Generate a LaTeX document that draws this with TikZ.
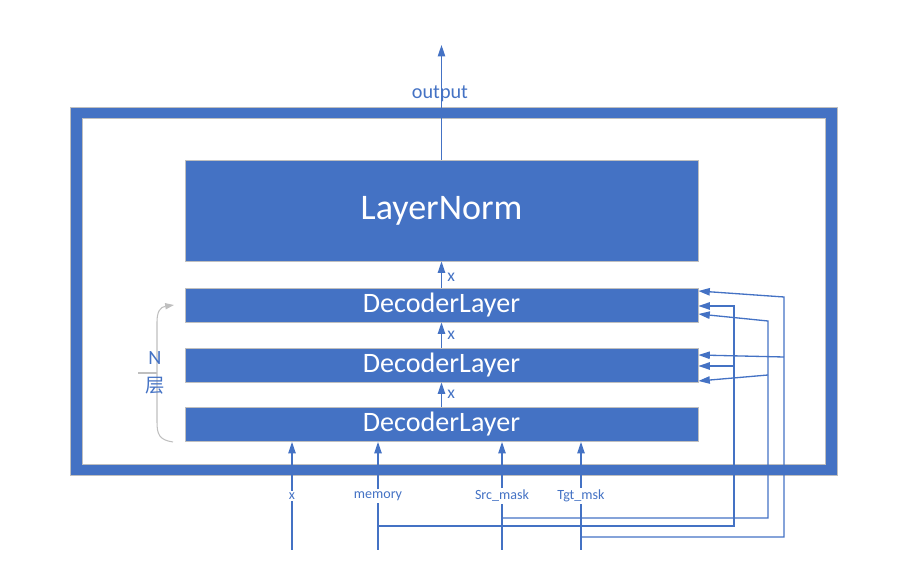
\documentclass[tikz,border=0pt]{standalone}
\usepackage{fontspec}
\setmainfont{Carlito}
\newfontfamily\cjk{Noto Sans CJK SC}
\usetikzlibrary{arrows.meta}
\definecolor{ppblue}{HTML}{4472C4}
\definecolor{ppgray}{HTML}{BFBFBF}

\begin{document}
\begin{tikzpicture}[x=0.02cm,y=-0.02cm,
  box/.style={fill=ppblue,draw=ppgray,line width=0.5pt,text=white,minimum width=10.26cm,inner sep=0pt},
  link/.style={ppblue,line width=0.75pt},
  tip/.style={-{Triangle[length=6.5pt,width=4.2pt]}},
  lbl/.style={text=ppblue,font=\fontsize{8}{9}\selectfont,inner sep=1pt},
  xlbl/.style={text=ppblue,font=\fontsize{10}{11}\selectfont,inner sep=1pt}]
\useasboundingbox (0,0) rectangle (924,577);
\draw[ppgray,line width=6.9pt] (76.5,113) rectangle (831.5,470);
\draw[ppblue,line width=6pt] (76.5,113) rectangle (831.5,470);

\node[box,minimum height=2.02cm,font=\fontsize{20.5}{24}\selectfont] (norm) at (441.5,210.5) {\raisebox{-2pt}{LayerNorm}};
\node[box,minimum height=0.68cm,font=\fontsize{16}{19}\selectfont] (dec3) at (441.5,305) {DecoderLayer};
\node[box,minimum height=0.68cm,font=\fontsize{16}{19}\selectfont] (dec2) at (441.5,365) {DecoderLayer};
\node[box,minimum height=0.68cm,font=\fontsize{16}{19}\selectfont] (dec1) at (441.5,424.5) {DecoderLayer};

\draw[link,tip] (dec1) -- (dec2) node[xlbl,midway,right=2pt]{x};
\draw[link,tip] (dec2) -- (dec3) node[xlbl,midway,right=2pt]{x};
\draw[link,tip] (dec3) -- (norm) node[xlbl,pos=0.4,right=2pt]{x};

\coordinate (top) at (441.5,45);
\draw[link,tip] (norm) -- (top);
\node[text=ppblue,font=\fontsize{11.5}{13}\selectfont] (outlbl) at (440,94) {output};

\foreach \n/\xx/\t in {inx/292/x, inmem/378/memory, insrc/502/Src\_mask, intgt/581/Tgt\_msk} {
  \node[lbl] (\n) at (\xx,496) {\t};
  \coordinate (\n b) at (\xx,550);
  \draw[link] (\n b) -- (\n);
  \draw[link,tip] (\n) -- (dec1.south -| \n);
}

\coordinate (mem0) at (378,526);
\coordinate (mem1) at (734,526);
\coordinate (mem2) at (734,306);
\coordinate (mem3) at (734,366);
\draw[link,tip] (mem0) -- (mem1) -- (mem2) -- (dec3.east |- mem2);
\draw[link,tip] (mem3) -- (dec2.east |- mem3);

\coordinate (src0) at (502,518);
\coordinate (src1) at (768,518);
\coordinate (src2) at (768,321);
\coordinate (src3) at (768,375);
\draw[link,tip] (src0) -- (src1) -- (src2) -- (dec3.east |- 0,314);
\draw[link,tip] (src3) -- (dec2.east |- 0,381);

\coordinate (tgt0) at (581,537);
\coordinate (tgt1) at (784,537);
\coordinate (tgt2) at (784,297);
\coordinate (tgt3) at (784,357);
\draw[link,tip] (tgt0) -- (tgt1) -- (tgt2) -- (dec3.east |- 0,291);
\draw[link,tip] (tgt3) -- (dec2.east |- 0,355);

\draw[ppgray,line width=0.6pt,-{Triangle[length=5pt,width=3.5pt]}] (173,442) .. controls (159,440) and (157,434) .. (157,422) -- (157,322) .. controls (157,312) and (160,307) .. (174,305);
\draw[ppgray,line width=0.6pt] (138,373) -- (157,373);
\node[text=ppblue,font=\fontsize{11.5}{13}\selectfont] (nlbl) at (155,358) {N};
\node[text=ppblue,font=\fontsize{11}{13}\selectfont] (clbl) at (155,386) {\cjk 层};
\end{tikzpicture}
\end{document}
